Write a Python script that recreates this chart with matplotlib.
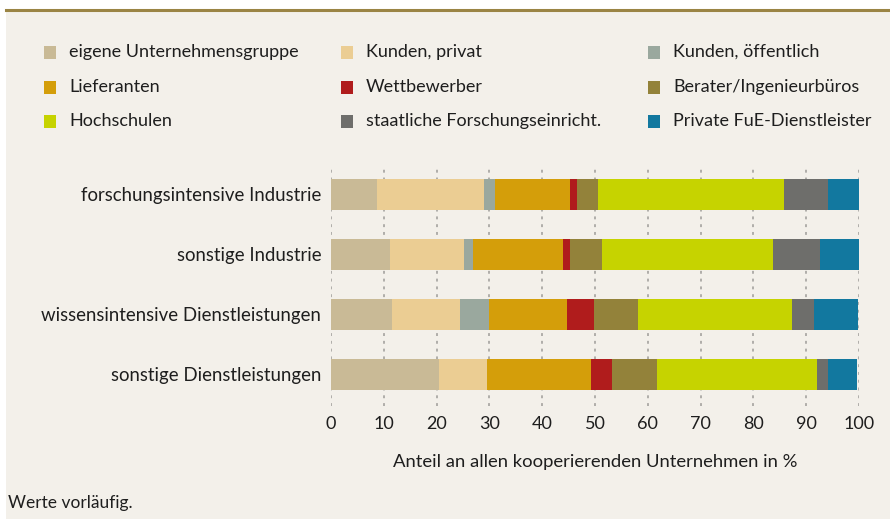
import matplotlib.pyplot as plt
from matplotlib.patches import Rectangle
from matplotlib.lines import Line2D
import numpy as np

plt.rcParams['font.family'] = ['Lato', 'DejaVu Sans']

# sectors (top to bottom)
sectors = ["forschungsintensive Industrie", "sonstige Industrie",
           "wissensintensive Dienstleistungen", "sonstige Dienstleistungen"]

partners = ["eigene Unternehmensgruppe", "Kunden, privat", "Kunden, öffentlich",
            "Lieferanten", "Wettbewerber", "Berater/Ingenieurbüros",
            "Hochschulen", "staatliche Forschungseinricht.", "Private FuE-Dienstleister"]

colors = ["#c9ba96", "#ebcd93", "#9aa89e",
          "#d49e0a", "#b01c1c", "#93823a",
          "#c6d300", "#6e6e6b", "#12789f"]

# shares in % per partner type, one value per sector
eigene      = [8.7, 11.1, 11.5, 20.4]
kunden_priv = [20.2, 14.0, 13.0, 9.1]
kunden_oeff = [2.1, 1.7, 5.4, 0.0]
lieferanten = [14.2, 17.2, 14.8, 19.7]
wettbewerb  = [1.3, 1.2, 5.1, 4.1]
berater     = [4.1, 6.2, 8.3, 8.5]
hochschulen = [35.2, 32.3, 29.3, 30.2]
staatlich   = [8.3, 8.9, 4.0, 2.1]
private_fue = [5.9, 7.4, 8.5, 5.5]

series = [eigene, kunden_priv, kunden_oeff, lieferanten, wettbewerb,
          berater, hochschulen, staatlich, private_fue]

W, H = 890, 519
fig = plt.figure(figsize=(W / 100, H / 100), dpi=100, facecolor="white")

# beige panel + top rule
fig.patches.append(Rectangle((6 / W, 0), 1, 1 - 11 / H, transform=fig.transFigure,
                             facecolor="#f3f0ea", edgecolor="none", zorder=-5))
fig.add_artist(Line2D([6 / W, 1], [1 - 9.5 / H, 1 - 9.5 / H], transform=fig.transFigure,
                      color="#9a8444", lw=2.2))

ax = fig.add_axes([331 / W, 1 - 406 / H, (859 - 331) / W, (406 - 165) / H])
ax.set_facecolor("none")
ax.set_zorder(2)

y = np.arange(len(sectors))
left = np.zeros(len(sectors))
for vals, c in zip(series, colors):
    ax.barh(y, vals, left=left, height=0.517, color=c, zorder=3)
    left += np.array(vals)

# dotted grid
for t in range(0, 101, 10):
    ax.axvline(t, color="#b0aeaa", lw=1.4, dashes=(1.5, 2.5), zorder=1)

ax.set_xlim(0, 100)
ax.set_ylim(3.525, -0.49)
ax.set_xticks(range(0, 101, 10))
ax.set_yticks(y)
ax.set_yticklabels(sectors)
ax.tick_params(length=0, labelsize=13, labelcolor="#1e1e1e")
ax.tick_params(axis="x", pad=7)
ax.tick_params(axis="y", pad=7, labelsize=13.4)
for s in ax.spines.values():
    s.set_visible(False)

ax.set_xlabel("Anteil an allen kooperierenden Unternehmen in %", fontsize=13.3,
              color="#1e1e1e", labelpad=16)

# legend, 3 columns
col_x = [44, 341, 648]
row_y = [52, 87, 121]
for i, (lab, c) in enumerate(zip(partners, colors)):
    cx = col_x[i % 3]
    cy = row_y[i // 3]
    fig.patches.append(Rectangle((cx / W, 1 - (cy + 6.5) / H), 12 / W, 13 / H,
                                 transform=fig.transFigure, facecolor=c,
                                 edgecolor="none", zorder=2))
    fig.text((cx + 25) / W, 1 - cy / H, lab, fontsize=13.0, color="#1e1e1e",
             va="center", ha="left")

fig.text(8 / W, 1 - 503 / H, "Werte vorläufig.", fontsize=12.5, color="#1e1e1e",
         va="center", ha="left")

fig.savefig("out.png", dpi=100)
